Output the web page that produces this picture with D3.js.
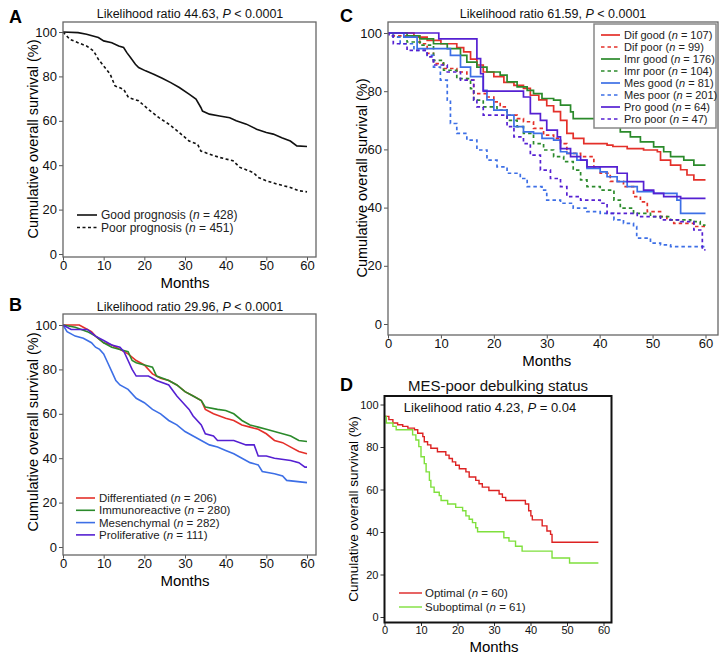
<!DOCTYPE html>
<html>
<head>
<meta charset="utf-8">
<script src="https://cdn.jsdelivr.net/npm/d3@7"></script>
<style>
  body { margin: 0; background: #fff; }
  svg { display: block; font-family: "Liberation Sans", Arial, Helvetica, sans-serif; }
</style>
</head>
<body>
<div id="chart"></div>
<script>
// ---- data (months, % surviving) ----
var monthTicks = [0, 10, 20, 30, 40, 50, 60];
var survTicks = [0, 20, 40, 60, 80, 100];

// A
var goodPrognosis = [[0,100],[3.7,99.7],[5.8,99],[8.7,97.5],[10,96],[12,95.2],[13.7,93.7],[14.9,93],[15.7,90.7],[16.6,88.5],[17.8,85.5],[18.6,84],[20.3,82.5],[22.3,81],[24.4,79.2],[26.5,77.2],[28.6,75],[31,72],[32.7,69.8],[33.9,66],[34.3,64.4],[36,63],[38.5,62.2],[41,61.4],[42.6,60],[45.1,58.5],[47.6,56.2],[50,54.7],[51.7,54],[53.8,52.4],[55.9,50.9],[57.5,48.7],[60,48.4]];
var poorPrognosis = [[0,100],[1.7,96.7],[3.7,95.2],[5.8,93.7],[7.5,91.5],[8.7,87.7],[10.3,84],[11.6,81],[12.8,75.7],[14.9,74.2],[16.1,70.5],[18.6,69],[21.1,65],[23.6,61.4],[26.1,58.4],[28.6,54.7],[31,50.9],[33.1,49.4],[33.9,46.4],[36,45],[38.5,43.5],[41.8,42],[43.5,39],[46.8,36.7],[48,34.5],[50,33],[52.6,31.5],[55.9,30],[58,28.5],[60,28]];

// B
var differentiated = [[0,100],[4,100],[5,99],[7,97],[8,95],[10,92],[12,91],[14,89],[16,87],[18,84],[20,82],[22,78],[24,76],[26,75],[28,73],[30,70],[32,68],[34,66],[35,62],[37,60],[40,58],[42,57],[44,55],[46,54],[48,53],[50,51],[52,48],[54,47],[56,45],[58,43],[60,42]];
var immunoreactive = [[0,100],[3,99],[6,97],[8,95],[10,92],[12,90],[14,89],[16,88],[17,84],[18,83],[20,82],[22,81],[23,77],[26,75],[28,73],[30,70],[32,68],[34,66],[35,63],[38,62],[40,61.5],[42,60],[44,57],[46,55],[48,54],[50,53],[52,52],[54,51],[56,50],[58,48],[60,47.5]];
var mesenchymal = [[0,100],[1,97],[3,95],[5,94],[7,92],[8,90],[9,89],[10,87],[11,83],[12,79],[13,75],[14,73],[16,71],[18,67],[20,65],[22,62],[24,60],[26,57],[28,55],[30,52],[32,50],[34,48],[36,46],[38,45],[40,43.5],[42,42],[44,40],[46,38],[48,37],[49,34],[52,33],[54,32],[55,30],[60,29]];
var proliferative = [[0,100],[2,98],[6,98],[8,95],[10,93],[12,91],[14,90],[15,88],[16,84],[17,80],[18,77],[21,77],[23,75],[26,73],[28,68],[30,64],[31,62],[32,59],[34,55],[35,51],[37,50],[38,48],[42,48],[45,46],[47,46],[48,41],[50,41],[52,40],[56,39],[58,38],[59.5,36],[60,36]];

// C
var difGood = [[0,100],[4.9,98.6],[7.4,97.5],[10,96.3],[13,95],[14.3,93.5],[15.6,91],[16.8,89],[18,86.6],[20,85],[21.9,83],[23.8,82],[25.6,81],[26.9,78.6],[28.5,77],[30,75],[31.3,73],[32.6,70],[33.8,65.5],[35,63.8],[37,62],[41.4,61.5],[42.5,61],[45.2,60.3],[48.3,59.8],[50.9,59.2],[51.5,56.3],[53.4,54.6],[55.3,53],[56.5,51.2],[57.8,49.5],[60,49.5]];
var difPoor = [[0,100],[1,99],[6,96.3],[7.4,93],[8.6,89.5],[10.5,87.8],[13,86.6],[14.9,83.8],[16.2,79.2],[18.7,78],[20,76.3],[21.2,74.6],[22.5,71.8],[24.4,70.6],[25.6,69.5],[27.5,67.2],[29.4,64.9],[31.3,63.8],[32.6,62],[33.8,58.6],[36.4,57.5],[38.9,54],[40.1,51.8],[42,49],[44.5,47.2],[46.4,43.8],[47.7,42],[49,38.6],[51.5,36.9],[52.7,35.8],[54,34.6],[57.8,33.5],[60,33.5]];
var imrGood = [[0,100],[3.6,99],[6,98],[8.6,96.3],[11.2,94.6],[13.7,92.3],[14.9,90],[16.8,88.3],[18.7,86.6],[21.2,85.5],[22.5,83.2],[24.4,81.5],[26.3,80.3],[27.5,79.2],[29.1,77.5],[31.3,76.9],[32.6,75.2],[34.5,72.9],[35,70.6],[39.5,70],[41.4,67.8],[43.9,66],[45.8,64.3],[47.7,62.6],[50.2,60.9],[52.1,59.2],[53.4,57.5],[55.9,56.3],[57.8,54.6],[60,54.6]];
var imrPoor = [[0,100],[1,98.6],[3.6,96.9],[6.1,95.8],[8.6,90.6],[10.5,87.2],[13,84.3],[15.6,80.9],[16.2,76.9],[18,74.6],[20.6,73.5],[22.5,70],[24.4,67.8],[25.6,65.5],[27.5,62],[29.4,59.8],[31.3,57.5],[33.2,55.8],[35,52.9],[36.4,49.5],[37.6,47.2],[40.1,46],[42.7,42.6],[43.9,39.8],[46.4,38],[49.6,36.9],[53.4,35.8],[57.2,35.2],[59,34],[60,34]];
var mesGood = [[0,100],[3,98.6],[5.5,94.6],[9.3,94.6],[11.8,92.3],[13.7,88.3],[15.6,85],[18,80.3],[18.7,77],[20,73.5],[22.5,71.8],[23.8,67.8],[25.6,66],[27.5,65.5],[29.1,63.8],[31.3,63.2],[32.6,59.2],[33.8,58.6],[35.7,56.3],[37.6,53.5],[40.1,52.3],[41.4,50.6],[43.3,48.9],[45.2,47.2],[47.1,45.5],[50.2,44.9],[54.6,42.6],[55.3,38],[60,38]];
var mesPoor = [[0,100],[1,98.6],[2.3,96.3],[4.9,94],[7.4,92.3],[8.6,88.3],[9.9,83.8],[11.2,76.9],[11.8,68.9],[13,65.5],[14.9,63.2],[16.8,59.8],[18.7,56.3],[20.6,54],[22.5,51.8],[25,50],[26.3,47.2],[29.1,46],[30,42.6],[32.6,41.5],[35,39.8],[37.6,38.6],[40.1,38],[42.7,35.8],[44.5,34.6],[46.4,33.5],[47,29.5],[49.6,27.8],[51.5,27.2],[53.4,26.6],[60,26]];
var proGood = [[0,100],[8.9,100],[9.6,98],[16.2,98],[16.8,91.2],[17.5,86],[18,80],[24.4,80],[25.6,78],[26.9,72.3],[28.8,70],[30,66.6],[32,64.3],[32.6,60.3],[34.5,57.5],[36.4,56.3],[37.6,54],[43.3,51.8],[45.2,48.9],[48.3,46],[50.2,44.9],[52.1,43.8],[55.3,43.2],[60,43.2]];
var proPoor = [[0,100],[0.2,99],[1,96.3],[3.6,94],[7.4,91.8],[8.6,89],[11.2,86.6],[13.7,83.8],[16.2,76.9],[16.8,74.6],[18,71.8],[22.5,67.8],[23.8,64.3],[25.6,62],[26.9,58],[28.8,52.9],[30.7,50],[32.6,47.2],[33.8,43.8],[36.4,42.6],[40.1,41.5],[41.4,38],[47.1,36.9],[51.5,35.8],[55.3,35.2],[57.8,32.3],[59.4,25.5],[60,25.5]];

// D
var optimal = [[0,94.4],[1.2,92.9],[2.3,91.3],[3.6,90.5],[5,89.7],[6.4,88.9],[8.2,88.1],[9.1,86.5],[10.5,84.9],[10.9,82.5],[11.8,81],[12.7,79.4],[14.5,77.8],[16.8,76.2],[17.7,74.6],[18.6,73],[19.5,71.4],[20.5,69.8],[22.3,68.3],[23.2,65.9],[25,64.3],[25.9,62.7],[26.8,61.1],[28.6,59.5],[31.4,57.9],[32.3,56.3],[33.2,54.8],[38.6,53.2],[39.5,50],[40.1,47.6],[40.5,45.7],[43.2,42.9],[44.5,40.5],[45.5,38.9],[45.9,35.2],[58.6,35.2]];
var suboptimal = [[0,94.4],[0.5,91.3],[2.3,89.7],[3.2,88.1],[6.8,88.1],[7.7,85.7],[8.6,83.3],[9.4,80.2],[10,75.4],[10.9,72.2],[11.4,68.3],[12.3,64.3],[12.7,61.1],[13.6,58.7],[15,57.1],[15.5,54.8],[17.3,53.2],[19.5,51.6],[21.4,50],[22.3,47.6],[23.2,46],[24.1,44.4],[25,42],[25.5,40.1],[32.7,37.3],[34.1,35.7],[35.9,33.3],[37.7,31],[45.9,27.8],[50.7,25.4],[58.6,25.4]];

var RED = "#e4302a", GREEN = "#2b8a2b", BLUE = "#3d6fe6", PURPLE = "#5520d2";

var svg = d3.select("#chart").append("svg")
    .attr("width", 727)
    .attr("height", 661);

// 一个面板
function panel(p) {
    var x = d3.scaleLinear().domain([0, 60]).range([p.x0, p.x60]);
    var y = d3.scaleLinear().domain([0, 100]).range([p.y0, p.y100]);
    var g = svg.append("g");

    // axes (ticks only, box drawn below)
    var xAxis = g.append("g")
        .attr("transform", "translate(0," + p.box[3] + ")")
        .call(d3.axisBottom(x).tickValues(monthTicks).tickSize(3.5).tickPadding(0));
    var yAxis = g.append("g")
        .attr("transform", "translate(" + p.box[0] + ",0)")
        .call(d3.axisLeft(y).tickValues(survTicks).tickSize(4).tickPadding(2));
    [xAxis, yAxis].forEach(function (a) {
        a.select(".domain").remove();
        a.selectAll("line").attr("stroke", p.axisColor);
        a.selectAll("text").attr("font-size", p.tickSize).attr("fill", "#111")
            .attr("font-family", "Liberation Sans, Arial, sans-serif");
    });

    // curves
    var line = d3.line()
        .x(function (d) { return x(d[0]); })
        .y(function (d) { return y(d[1]); })
        .curve(p.step ? d3.curveStepAfter : d3.curveLinear);
    p.series.forEach(function (s) {
        g.append("path")
            .datum(s.data)
            .attr("fill", "none")
            .attr("stroke", s.color)
            .attr("stroke-width", p.lineWidth)
            .attr("stroke-dasharray", s.dash ? p.dash : null)
            .attr("d", line);
    });

    // box
    g.append("rect")
        .attr("x", p.box[0]).attr("y", p.box[1])
        .attr("width", p.box[2] - p.box[0])
        .attr("height", p.box[3] - p.box[1])
        .attr("fill", "none")
        .attr("stroke", p.boxColor)
        .attr("stroke-width", p.boxWidth);

    // labels
    g.append("text")
        .attr("x", p.ylab[0]).attr("y", p.ylab[1])
        .attr("transform", "rotate(-90," + p.ylab[0] + "," + p.ylab[1] + ")")
        .attr("text-anchor", "middle").attr("dominant-baseline", "central")
        .attr("font-size", p.ylabSize)
        .text("Cumulative overall survival (%)");
    g.append("text")
        .attr("x", (p.x0 + p.x60) / 2).attr("y", p.xlabY)
        .attr("text-anchor", "middle").attr("dominant-baseline", "central")
        .attr("font-size", 15)
        .text("Months");
    g.append("text")
        .attr("x", p.letter[0]).attr("y", p.letter[1])
        .attr("font-size", 18).attr("font-weight", "bold")
        .attr("dominant-baseline", "central")
        .text(p.name);

    // legend
    var lg = p.legend;
    if (lg.frame) {
        g.append("rect")
            .attr("x", lg.frame[0]).attr("y", lg.frame[1])
            .attr("width", lg.frame[2] - lg.frame[0])
            .attr("height", lg.frame[3] - lg.frame[1])
            .attr("fill", "#fff").attr("stroke", "#888").attr("stroke-width", 1.5);
    }
    p.series.forEach(function (s, i) {
        var yy = lg.y + i * lg.step;
        g.append("line")
            .attr("x1", lg.x1).attr("x2", lg.x2)
            .attr("y1", yy).attr("y2", yy)
            .attr("stroke", s.color)
            .attr("stroke-width", p.lineWidth)
            .attr("stroke-dasharray", s.dash ? p.dash : null);
        var t = g.append("text")
            .attr("x", lg.tx).attr("y", yy)
            .attr("dominant-baseline", "central")
            .attr("font-size", lg.size).attr("fill", "#222");
        t.append("tspan").text(s.label + " (");
        t.append("tspan").attr("font-style", "italic").text("n");
        t.append("tspan").text(" = " + s.n + ")");
    });
    return g;
}

function ratioText(g, cx, cy, size, value, op, pv) {
    var t = g.append("text")
        .attr("x", cx).attr("y", cy)
        .attr("text-anchor", "middle").attr("dominant-baseline", "central")
        .attr("font-size", size).attr("fill", "#111");
    t.append("tspan").text("Likelihood ratio " + value + ", ");
    t.append("tspan").attr("font-style", "italic").text("P");
    t.append("tspan").text(" " + op + " " + pv);
}

// A
var gA = panel({
    name: "A", letter: [9, 17],
    x0: 63, x60: 307, y0: 254, y100: 32, box: [63, 22, 316, 257],
    step: false, lineWidth: 1.6, dash: "3,2.5",
    axisColor: "#555", boxColor: "#666", boxWidth: 1.3, tickSize: 13,
    ylab: [33, 139], ylabSize: 14.5, xlabY: 282,
    series: [
        { data: goodPrognosis, color: "#111", label: "Good prognosis", n: 428 },
        { data: poorPrognosis, color: "#111", dash: true, label: "Poor prognosis", n: 451 }
    ],
    legend: { x1: 77, x2: 97, tx: 101, y: 215, step: 12.5, size: 12 }
});
ratioText(gA, 190, 14, 12.5, "44.63", "<", "0.0001");

// B
var gB = panel({
    name: "B", letter: [9, 305],
    x0: 63, x60: 307, y0: 547, y100: 325, box: [63, 314, 316, 555],
    step: false, lineWidth: 1.6, dash: null,
    axisColor: "#555", boxColor: "#666", boxWidth: 1.3, tickSize: 13,
    ylab: [33, 432], ylabSize: 14.5, xlabY: 580,
    series: [
        { data: differentiated, color: RED, label: "Differentiated", n: 206 },
        { data: immunoreactive, color: GREEN, label: "Immunoreactive", n: 280 },
        { data: mesenchymal, color: BLUE, label: "Mesenchymal", n: 282 },
        { data: proliferative, color: PURPLE, label: "Proliferative", n: 111 }
    ],
    legend: { x1: 76, x2: 95, tx: 99, y: 498, step: 12.3, size: 11.5 }
});
ratioText(gB, 190, 307, 12.5, "29.96", "<", "0.0001");

// C
var gC = panel({
    name: "C", letter: [340, 16],
    x0: 388, x60: 705.5, y0: 324, y100: 33, box: [388, 22, 718, 335],
    step: true, lineWidth: 1.7, dash: "3.5,3",
    axisColor: "#555", boxColor: "#666", boxWidth: 1.3, tickSize: 13,
    ylab: [362, 178], ylabSize: 14.5, xlabY: 360,
    series: [
        { data: difGood, color: RED, label: "Dif good", n: 107 },
        { data: difPoor, color: RED, dash: true, label: "Dif poor", n: 99 },
        { data: imrGood, color: GREEN, label: "Imr good", n: 176 },
        { data: imrPoor, color: GREEN, dash: true, label: "Imr poor", n: 104 },
        { data: mesGood, color: BLUE, label: "Mes good", n: 81 },
        { data: mesPoor, color: BLUE, dash: true, label: "Mes poor", n: 201 },
        { data: proGood, color: PURPLE, label: "Pro good", n: 64 },
        { data: proPoor, color: PURPLE, dash: true, label: "Pro poor", n: 47 }
    ],
    legend: { frame: [594, 24, 716, 128], x1: 601, x2: 620, tx: 624, y: 35, step: 12, size: 11 }
});
ratioText(gC, 553, 14, 12.5, "61.59", "<", "0.0001");

// D
var gD = panel({
    name: "D", letter: [340, 385],
    x0: 384.5, x60: 603.5, y0: 617, y100: 404.5, box: [384.5, 396, 611.5, 622.5],
    step: true, lineWidth: 1.4, dash: null,
    axisColor: "#333", boxColor: "#111", boxWidth: 2, tickSize: 11,
    ylab: [353, 509], ylabSize: 13.5, xlabY: 646,
    series: [
        { data: optimal, color: "#dd2222", label: "Optimal", n: 60 },
        { data: suboptimal, color: "#7fe03c", label: "Suboptimal", n: 61 }
    ],
    legend: { x1: 399, x2: 422, tx: 425, y: 593, step: 14, size: 11.5 }
});
ratioText(gD, 490, 407, 13, "4.23", "=", "0.04");
gD.append("text")
    .attr("x", 498).attr("y", 385)
    .attr("text-anchor", "middle").attr("dominant-baseline", "central")
    .attr("font-size", 15).attr("fill", "#111")
    .text("MES-poor debulking status");
</script>
</body>
</html>
